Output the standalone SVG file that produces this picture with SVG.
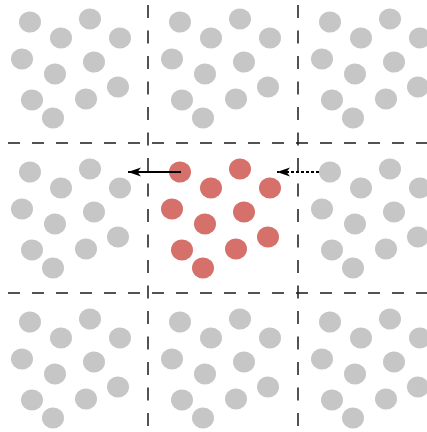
<svg xmlns="http://www.w3.org/2000/svg" xmlns:xlink="http://www.w3.org/1999/xlink" width="427" height="432" viewBox="0 0 427 432">
  <style>
    .grey { fill: #c6c6c6; }
    .red { fill: #d6706a; }
    .hline { stroke: #1a1a1a; stroke-width: 1.5; stroke-dasharray: 12 12; fill: none; }
    .vline { stroke: #1a1a1a; stroke-width: 1.5; stroke-dasharray: 13 12.5; fill: none; }
    .arrow { stroke: #000; stroke-width: 1.8; fill: none; }
    .dotted { stroke-dasharray: 3 2; }
  </style>
  <defs>
    <g id="pat">
      <ellipse cx="30" cy="22" rx="11" ry="10.5"/>
      <ellipse cx="90" cy="19" rx="11" ry="10.5"/>
      <ellipse cx="61" cy="38" rx="11" ry="10.5"/>
      <ellipse cx="120" cy="38" rx="11" ry="10.5"/>
      <ellipse cx="22" cy="59" rx="11" ry="10.5"/>
      <ellipse cx="94" cy="62" rx="11" ry="10.5"/>
      <ellipse cx="55" cy="74" rx="11" ry="10.5"/>
      <ellipse cx="32" cy="100" rx="11" ry="10.5"/>
      <ellipse cx="86" cy="99" rx="11" ry="10.5"/>
      <ellipse cx="118" cy="87" rx="11" ry="10.5"/>
      <ellipse cx="53" cy="118" rx="11" ry="10.5"/>
    </g>
    <marker id="head" markerUnits="userSpaceOnUse" markerWidth="16" markerHeight="12" viewBox="-14 -6 16 12" refX="0" refY="0" orient="auto">
      <path d="M0,0 L-13,-4.5 L-9.5,0 L-13,4.5 Z" fill="#000"/>
    </marker>
  </defs>

  <g id="grid">
    <line class="hline" x1="8" y1="143" x2="427" y2="143"/>
    <line class="hline" x1="8" y1="293" x2="427" y2="293"/>
    <line class="vline" x1="148" y1="5" x2="148" y2="432"/>
    <line class="vline" x1="298" y1="5" x2="298" y2="432"/>
  </g>

  <g id="cell-0-0"><use xlink:href="#pat" href="#pat" class="grey" transform="translate(0,0)"/></g>
  <g id="cell-0-1"><use xlink:href="#pat" href="#pat" class="grey" transform="translate(150,0)"/></g>
  <g id="cell-0-2"><use xlink:href="#pat" href="#pat" class="grey" transform="translate(300,0)"/></g>
  <g id="cell-1-0"><use xlink:href="#pat" href="#pat" class="grey" transform="translate(0,150)"/></g>
  <g id="cell-1-1"><use xlink:href="#pat" href="#pat" class="red" transform="translate(150,150)"/></g>
  <g id="cell-1-2"><use xlink:href="#pat" href="#pat" class="grey" transform="translate(300,150)"/></g>
  <g id="cell-2-0"><use xlink:href="#pat" href="#pat" class="grey" transform="translate(0,300)"/></g>
  <g id="cell-2-1"><use xlink:href="#pat" href="#pat" class="grey" transform="translate(150,300)"/></g>
  <g id="cell-2-2"><use xlink:href="#pat" href="#pat" class="grey" transform="translate(300,300)"/></g>

  <g id="connectors">
    <line class="arrow" x1="181" y1="172" x2="128" y2="172" marker-end="url(#head)"/>
    <line class="arrow dotted" x1="319" y1="172" x2="277" y2="172" marker-end="url(#head)"/>
  </g>
</svg>
